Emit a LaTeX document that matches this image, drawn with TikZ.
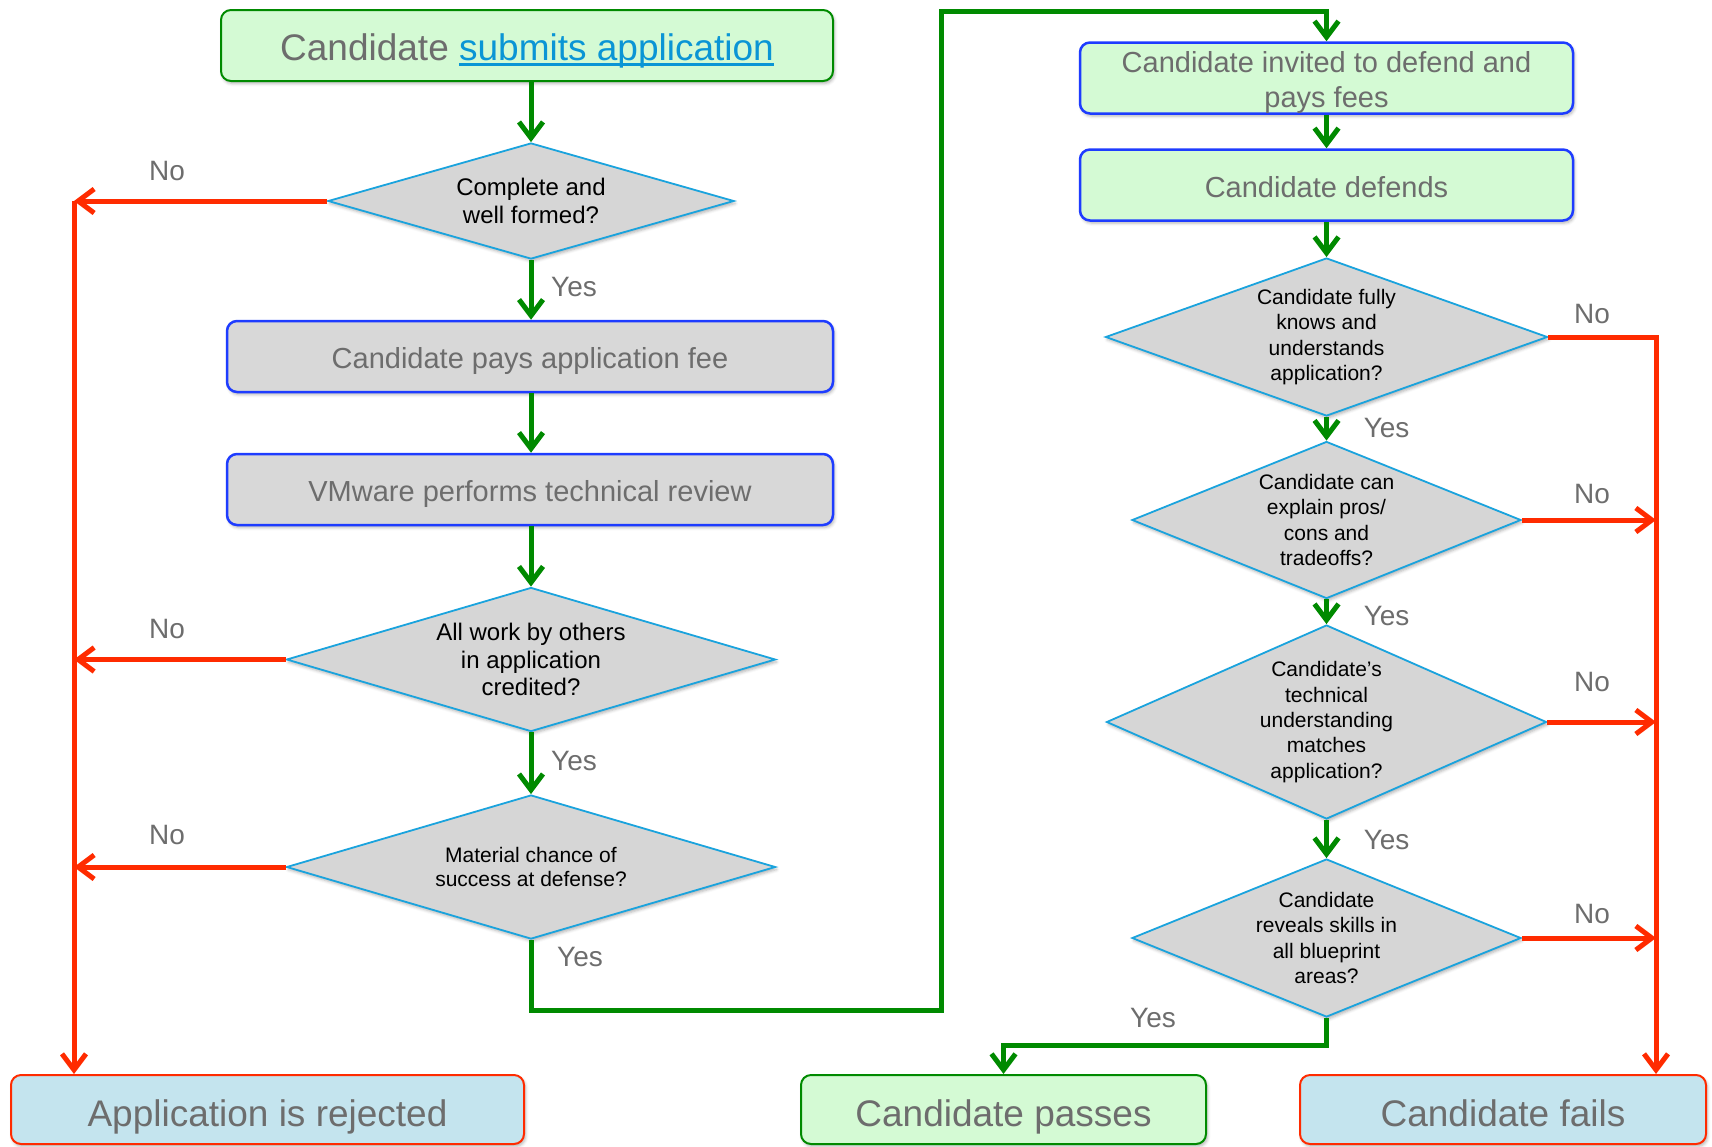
\documentclass[tikz,border=0pt]{standalone}
\usepackage{fontspec}
\setmainfont{Liberation Sans}
\usetikzlibrary{arrows.meta,shapes.geometric,shadows.blur}

\definecolor{flowgreen}{RGB}{0,138,0}
\definecolor{flowred}{RGB}{255,43,0}
\definecolor{passfill}{RGB}{212,250,212}
\definecolor{stepblue}{RGB}{30,60,255}
\definecolor{stepgray}{RGB}{216,216,216}
\definecolor{endblue}{RGB}{196,228,238}
\definecolor{qfill}{RGB}{214,214,214}
\definecolor{qedge}{RGB}{26,163,221}
\definecolor{labelgray}{RGB}{109,109,109}
\definecolor{linkblue}{RGB}{10,149,213}

% font sizes
\newcommand\fbig{\fontsize{37pt}{44pt}\selectfont}
\newcommand\fmid{\fontsize{29pt}{35pt}\selectfont}
\newcommand\fqa{\fontsize{24pt}{27.5pt}\selectfont}
\newcommand\fqb{\fontsize{21pt}{24.5pt}\selectfont}
\newcommand\fqc{\fontsize{21pt}{25.4pt}\selectfont}
\newcommand\flab{\fontsize{28pt}{32pt}\selectfont}
% underlined link text
\newcommand\linktext[1]{\setbox0\hbox{\color{linkblue}#1}%
  \rlap{\color{linkblue}\rule[-5pt]{\wd0}{2.2pt}}\box0}

\tikzset{
  softshadow/.style={blur shadow={shadow xshift=1.5pt, shadow yshift=-2.5pt,
      shadow blur radius=3pt, shadow opacity=30}},
  box/.style={rectangle, rounded corners=10pt, line width=2pt, inner sep=0pt,
      text=labelgray, align=center, softshadow},
  greenbox/.style={box, fill=passfill, draw=flowgreen},
  bluegreenbox/.style={box, fill=passfill, draw=stepblue, line width=2.5pt},
  graybox/.style={box, fill=stepgray, draw=stepblue, line width=2.5pt},
  endbox/.style={box, fill=endblue, draw=flowred},
  midline/.style={text height=24pt, text depth=0pt},
  decision/.style={diamond, draw=qedge, fill=qfill, line width=1.8pt,
      inner sep=0pt, align=center, text=black, softshadow},
  yesflow/.style={draw=flowgreen, line width=5pt,
      -{Straight Barb[length=16pt,width=24pt]}},
  noflow/.style={draw=flowred, line width=5pt,
      -{Straight Barb[length=16pt,width=24pt]}},
  lbl/.style={text=labelgray, font=\flab, inner sep=0pt},
}

\begin{document}
\begin{tikzpicture}[x=1pt,y=-1pt]
\useasboundingbox (0,0) rectangle (1712,1146);

% ---------- left column ----------
\node[greenbox, minimum width=612pt, minimum height=71pt, font=\fbig,
      text height=30pt, text depth=0pt]
  (start) at (527,45.5) {Candidate \linktext{submits application}};
\node[decision, minimum width=406pt, minimum height=116pt, shape aspect=3.5, font=\fqa]
  (d1) at (531,201) {Complete and\\well formed?};
\node[graybox, midline, minimum width=606pt, minimum height=71pt, font=\fmid]
  (fee) at (530,356.5) {Candidate pays application fee};
\node[graybox, midline, minimum width=606pt, minimum height=71pt, font=\fmid]
  (review) at (530,489.5) {VMware performs technical review};
\node[decision, minimum width=489pt, minimum height=144pt, shape aspect=3.4, font=\fqa]
  (d5) at (531,659.5) {All work by others\\in application\\credited?};
\node[decision, minimum width=489pt, minimum height=144pt, shape aspect=3.4, font=\fqb]
  (d6) at (531,867) {Material chance of\\success at defense?};
\node[endbox, minimum width=513pt, minimum height=69pt, font=\fbig,
      text height=33pt, text depth=0pt]
  (rej) at (267.5,1109.5) {Application is rejected};

% ---------- right column ----------
\node[bluegreenbox, minimum width=493pt, minimum height=71pt]
  (invite) at (1326.5,78) {};
\node[text=labelgray, font=\fmid, align=center, inner sep=0pt]
  (invitetext) at ([yshift=-4pt]invite.center) {Candidate invited to defend and\\pays fees};
\node[bluegreenbox, midline, minimum width=493pt, minimum height=71pt, font=\fmid]
  (defend) at (1326.5,185) {Candidate defends};
\node[decision, minimum width=442pt, minimum height=158pt, shape aspect=2.8, font=\fqc]
  (d12) at (1326.5,337) {Candidate fully\\knows and\\understands\\application?};
\node[decision, minimum width=389pt, minimum height=157pt, shape aspect=2.48, font=\fqc]
  (d13) at (1326.5,520) {Candidate can\\explain pros/\\cons and\\tradeoffs?};
\node[decision, minimum width=440pt, minimum height=194pt, shape aspect=2.26, font=\fqc]
  (d14) at (1326.5,722) {Candidate’s\\technical\\understanding\\matches\\application?};
\node[decision, minimum width=389pt, minimum height=158pt, shape aspect=2.45, font=\fqc]
  (d15) at (1326.5,938) {Candidate\\reveals skills in\\all blueprint\\areas?};
\node[greenbox, minimum width=405pt, minimum height=69pt, font=\fbig,
      text height=33pt, text depth=0pt]
  (pass) at (1003.5,1109.5) {Candidate passes};
\node[endbox, minimum width=406pt, minimum height=69pt, font=\fbig,
      text height=33pt, text depth=0pt]
  (fail) at (1503,1109.5) {Candidate fails};

% ---------- corner points of the long runs ----------
\coordinate (lc) at (74,201);
\coordinate (rc) at (1656,337);
\coordinate (bridge) at (941,11);

% ---------- "yes" flow ----------
\draw[yesflow] (start.south -| d1.north) -- (d1.north);
\draw[yesflow] (d1.south) -- (fee.north -| d1.south);
\draw[yesflow] (fee.south -| d1.south) -- (review.north -| d1.south);
\draw[yesflow] (review.south -| d5.north) -- (d5.north);
\draw[yesflow] (d5.south) -- (d6.north);
\draw[yesflow] (d6.south) -- ++(0,71) -| (bridge) -| (invite.north);
\draw[yesflow] (invite.south) -- (defend.north);
\draw[yesflow] (defend.south) -- (d12.north);
\draw[yesflow] (d12.south) -- (d13.north);
\draw[yesflow] (d13.south) -- (d14.north);
\draw[yesflow] (d14.south) -- (d15.north);
\draw[yesflow] (d15.south) -- ++(0,28) -| (pass.north);

% ---------- "no" flow ----------
\draw[noflow] (d1.west) -- (lc);
\draw[noflow] (lc) -- (lc |- rej.north);
\draw[noflow] (d5.west) -- (d5.west -| lc);
\draw[noflow] (d6.west) -- (d6.west -| lc);
\draw[noflow] (d12.east) -- (rc) -- (rc |- fail.north);
\draw[noflow] (d13.east) -- (d13.east -| rc);
\draw[noflow] (d14.east) -- (d14.east -| rc);
\draw[noflow] (d15.east) -- (d15.east -| rc);

% ---------- branch labels ----------
\node[lbl] (no1) at (167,171) {No};
\node[lbl] (no5) at (167,629) {No};
\node[lbl] (no6) at (167,835) {No};
\node[lbl] (yes1) at (574,287) {Yes};
\node[lbl] (yes5) at (574,761) {Yes};
\node[lbl] (yes6) at (580,957) {Yes};
\node[lbl] (no12) at (1592,314) {No};
\node[lbl] (no13) at (1592,493.5) {No};
\node[lbl] (no14) at (1592,682) {No};
\node[lbl] (no15) at (1592,914) {No};
\node[lbl] (yes12) at (1386.6,428) {Yes};
\node[lbl] (yes13) at (1386.6,616) {Yes};
\node[lbl] (yes14) at (1386.6,839.6) {Yes};
\node[lbl] (yes15) at (1153,1018) {Yes};
\end{tikzpicture}
\end{document}
